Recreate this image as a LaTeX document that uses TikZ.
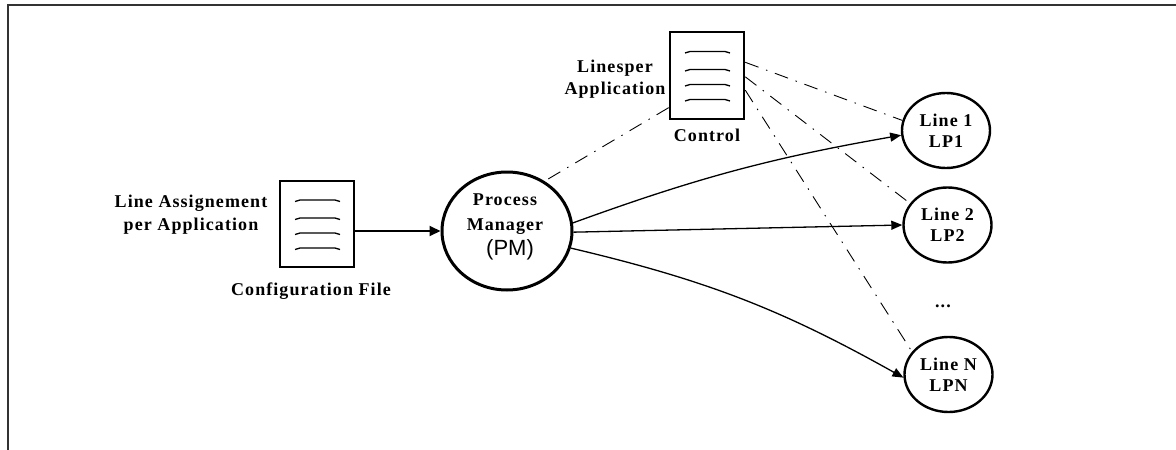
\documentclass[tikz,border=0pt]{standalone}
\usepackage{fontspec}
\setmainfont{Liberation Serif}
\newfontfamily\lbf[LetterSpace=6]{Liberation Serif}
\newfontfamily\pmsans{Liberation Sans}
\usetikzlibrary{shapes.geometric,arrows.meta}
\tikzset{
  lbl/.style={font=\lbf\bfseries\fontsize{18}{23}\selectfont, align=center, inner sep=0pt},
  filebox/.style={draw, line width=2.6pt, minimum width=74pt, minimum height=86pt, inner sep=0pt},
  pmnode/.style={draw, ellipse, line width=3pt, minimum width=130pt, minimum height=118pt, inner sep=0pt},
  linenode/.style={draw, ellipse, line width=2.4pt, minimum width=88pt, minimum height=75pt, inner sep=0pt,
     font=\lbf\bfseries\fontsize{18}{21}\selectfont, align=center},
  flow/.style={line width=1.3pt, -{Triangle[length=11pt,width=9pt]}},
  mainflow/.style={line width=2pt, -{Triangle[length=11pt,width=10pt]}},
  ctlline/.style={line width=0.9pt, dash pattern=on 14pt off 8pt on 1.5pt off 8pt},
  frame/.style={line width=1.8pt, black!80},
  filelines/.pic={
    \foreach \yy in {-24,-6,9,24}{
      \draw[line width=1.3pt] (-22,\yy+1.5) -- (-17,\yy) -- (18,\yy) -- (23,\yy+1.5);
    }
  }
}
\begin{document}
\begin{tikzpicture}[x=1pt,y=-1pt]
\useasboundingbox (0,0) rectangle (1176,450);
% frame
\coordinate (fr1) at (8,450);
\coordinate (fr2) at (8,5);
\coordinate (fr3) at (1176,5);
\draw[frame] (fr1) -- (fr2) -- (fr3);

% configuration file
\node[filebox] (cfg) at (317,224) {};
\pic at (cfg.center) {filelines};
\node[lbl] (cfgtxt) at (191,215) {Line Assignement\\per Application};
\node[lbl] (cfglab) at (311,291) {Configuration File};

% control file
\node[filebox, minimum height=87pt] (ctl) at (707,75.5) {};
\pic at (ctl.center) {filelines};
\node[lbl, font=\lbf\bfseries\fontsize{18}{22}\selectfont] (ctltxt) at (615,79) {Linesper\\Application};
\node[lbl] (ctllab) at (707,135) {Control};

% process manager
\node[pmnode] (pm) at (507,231) {};
\node[lbl, font=\lbf\bfseries\fontsize{18}{25}\selectfont] (pmtxt) at (505,214) {Process\\Manager};
\node[inner sep=0pt, font=\pmsans\fontsize{22}{24}\selectfont] (pmabbr) at (510,250) {(PM)};

% line processes
\node[linenode] (l1) at (946,130.5) {Line 1\\LP1};
\node[linenode] (l2) at (947.5,225) {Line 2\\LP2};
\node[linenode] (ln) at (948.5,374.5) {Line N\\LPN};
\node[lbl] (dots) at (943,306) {...};

% connectors
\draw[mainflow] (cfg.east |- pm.west) -- (pm.west);
\draw[flow] (pm.7) to[bend left=5] (l1.186);
\draw[flow] (pm.359) -- (l2.west);
\draw[flow] (pm.345) to[bend left=8] (ln.184);

\draw[ctlline] (ctl.220) -- (pm.53);
\draw[ctlline] (ctl.19) -- (l1.167);
\draw[ctlline] (ctl.358) -- (l2.150);
\draw[ctlline] (ctl.339) -- (ln.148);
\end{tikzpicture}
\end{document}
